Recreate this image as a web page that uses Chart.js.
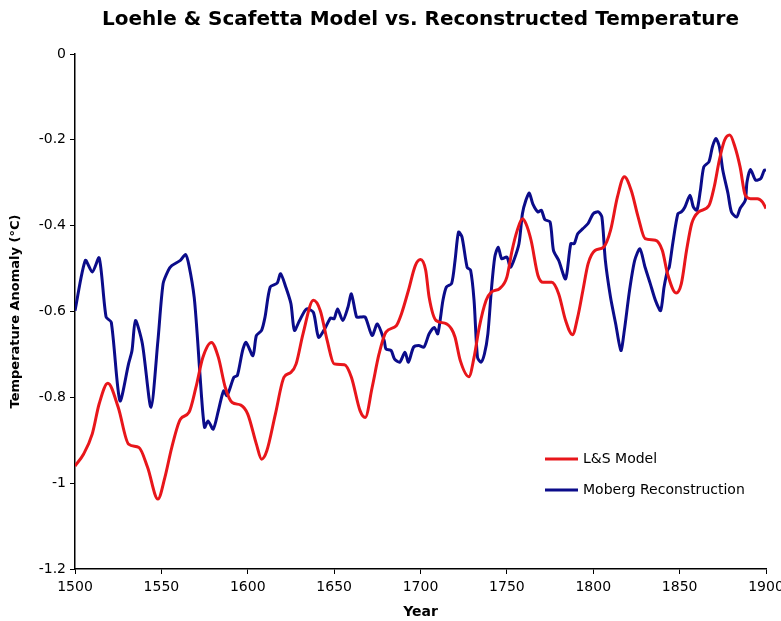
<!DOCTYPE html>
<html>
<head>
<meta charset="utf-8">
<script src="https://cdn.jsdelivr.net/npm/chart.js@4.4.1/dist/chart.umd.min.js"></script>
<style>
html,body{margin:0;padding:0;background:#fff;}
#wrap{width:781px;height:621px;position:relative;}
</style>
</head>
<body>
<div id="wrap"><canvas id="c" width="781" height="621"></canvas></div>
<script>
const chartTitle = "Loehle & Scafetta Model vs. Reconstructed Temperature";
const xTitle = "Year";
const yTitle = "Temperature Anomaly (°C)";
const seriesNames = ["L&S Model", "Moberg Reconstruction"];

const modelYears = [1500,1505,1510,1514,1519,1525,1531,1537,1542,1548,1552,1556,1561,1566,1570,1574,1579,1583,1587,1591,1596,1600,1605,1608,1611,1616,1621,1625,1628,1632,1638,1642,1646,1650,1656,1660,1665,1668,1672,1676,1680,1686,1689,1693,1697,1700,1703,1705,1709,1714,1718,1720,1723,1728,1731,1734,1738,1741,1746,1750,1753,1756,1759,1761,1764,1768,1771,1776,1780,1784,1788,1791,1794,1797,1801,1806,1810,1814,1818,1822,1826,1830,1836,1840,1843,1848,1851,1854,1857,1861,1867,1870,1873,1876,1879,1882,1885,1888,1891,1895,1898,1900];
const modelValues = [-0.960,-0.932,-0.885,-0.815,-0.767,-0.823,-0.909,-0.917,-0.963,-1.037,-0.987,-0.917,-0.851,-0.835,-0.777,-0.707,-0.672,-0.707,-0.777,-0.812,-0.818,-0.839,-0.909,-0.944,-0.925,-0.839,-0.753,-0.742,-0.722,-0.652,-0.574,-0.598,-0.668,-0.722,-0.724,-0.753,-0.831,-0.847,-0.777,-0.699,-0.648,-0.633,-0.605,-0.551,-0.493,-0.479,-0.504,-0.567,-0.621,-0.627,-0.641,-0.660,-0.714,-0.752,-0.707,-0.637,-0.574,-0.555,-0.546,-0.520,-0.458,-0.411,-0.384,-0.395,-0.434,-0.516,-0.532,-0.532,-0.559,-0.621,-0.654,-0.613,-0.551,-0.489,-0.458,-0.450,-0.411,-0.333,-0.286,-0.318,-0.380,-0.430,-0.434,-0.458,-0.512,-0.557,-0.535,-0.458,-0.395,-0.368,-0.353,-0.310,-0.247,-0.201,-0.189,-0.216,-0.263,-0.329,-0.337,-0.337,-0.345,-0.360];

const mobergYears = [1500,1506,1510,1514,1518,1521,1526,1531,1533,1535,1539,1544,1548,1551,1554,1556,1561,1564,1566,1569,1571,1573,1575,1577,1580,1583,1586,1588,1592,1594,1597,1599,1603,1605,1608,1610,1613,1617,1619,1622,1625,1627,1630,1634,1638,1641,1645,1648,1650,1652,1655,1658,1660,1663,1665,1668,1672,1675,1679,1680,1683,1685,1688,1691,1693,1696,1699,1702,1705,1708,1710,1713,1715,1718,1720,1722,1724,1727,1729,1731,1733,1735,1737,1739,1741,1743,1745,1747,1750,1752,1754,1757,1759,1761,1763,1765,1768,1770,1772,1775,1777,1780,1784,1787,1789,1791,1794,1797,1800,1803,1805,1807,1810,1813,1816,1818,1821,1824,1827,1830,1833,1836,1839,1841,1843,1844,1846,1849,1851,1853,1856,1858,1860,1862,1864,1867,1869,1871,1873,1875,1878,1880,1883,1885,1888,1889,1891,1894,1897,1899,1900];
const mobergValues = [-0.598,-0.481,-0.508,-0.475,-0.613,-0.625,-0.808,-0.722,-0.691,-0.621,-0.675,-0.823,-0.668,-0.535,-0.504,-0.493,-0.481,-0.467,-0.493,-0.567,-0.668,-0.785,-0.870,-0.855,-0.874,-0.831,-0.785,-0.796,-0.753,-0.749,-0.691,-0.672,-0.703,-0.656,-0.644,-0.613,-0.543,-0.534,-0.512,-0.543,-0.582,-0.644,-0.621,-0.594,-0.602,-0.660,-0.637,-0.615,-0.617,-0.594,-0.621,-0.590,-0.559,-0.613,-0.613,-0.613,-0.656,-0.629,-0.668,-0.687,-0.691,-0.711,-0.718,-0.695,-0.718,-0.683,-0.679,-0.683,-0.652,-0.637,-0.652,-0.574,-0.543,-0.535,-0.481,-0.415,-0.426,-0.497,-0.504,-0.574,-0.707,-0.718,-0.699,-0.652,-0.551,-0.473,-0.450,-0.477,-0.473,-0.497,-0.481,-0.442,-0.372,-0.341,-0.324,-0.349,-0.368,-0.364,-0.386,-0.391,-0.458,-0.481,-0.524,-0.442,-0.442,-0.419,-0.407,-0.395,-0.372,-0.368,-0.380,-0.481,-0.567,-0.629,-0.691,-0.644,-0.551,-0.481,-0.454,-0.497,-0.535,-0.574,-0.598,-0.543,-0.504,-0.497,-0.442,-0.372,-0.368,-0.357,-0.329,-0.357,-0.364,-0.318,-0.263,-0.251,-0.216,-0.197,-0.216,-0.271,-0.325,-0.368,-0.380,-0.360,-0.341,-0.298,-0.269,-0.294,-0.290,-0.271,-0.270];

const xTicks = [1500,1550,1600,1650,1700,1750,1800,1850,1900];
const yTicks = [0,-0.2,-0.4,-0.6,-0.8,-1,-1.2];

const FONT = "'DejaVu Sans', Verdana, sans-serif";

function pts(xs, ys){ return xs.map((x,i)=>({x:x, y:ys[i]})); }

const titlePlugin = {
  id: 'topTitle',
  afterDraw(chart){
    const ctx = chart.ctx, a = chart.chartArea;
    ctx.save();
    ctx.font = "bold 20px " + FONT;
    ctx.fillStyle = "#000";
    ctx.textAlign = "center";
    ctx.textBaseline = "middle";
    ctx.fillText(chartTitle, (a.left + a.right)/2, 20);
    ctx.restore();
  }
};

const legendPlugin = {
  id: 'innerLegend',
  afterDatasetsDraw(chart){
    const ctx = chart.ctx, a = chart.chartArea;
    ctx.save();
    ctx.font = "14px " + FONT;
    ctx.textBaseline = "middle";
    ctx.textAlign = "left";
    chart.data.datasets.forEach((ds, i) => {
      const y = a.top + 405 + i*31;
      const x0 = a.left + 470;
      ctx.strokeStyle = ds.borderColor;
      ctx.lineWidth = 3;
      ctx.beginPath();
      ctx.moveTo(x0, y);
      ctx.lineTo(x0 + 33, y);
      ctx.stroke();
      ctx.fillStyle = "#000";
      ctx.fillText(ds.label, x0 + 38, y);
    });
    ctx.restore();
  }
};

new Chart(document.getElementById('c'), {
  type: 'line',
  data: {
    datasets: [
      { label: seriesNames[0], data: pts(modelYears, modelValues), borderColor: '#e8161b', borderWidth: 3, pointRadius: 0, tension: 0.4, cubicInterpolationMode: 'monotone' },
      { label: seriesNames[1], data: pts(mobergYears, mobergValues), borderColor: '#0b0c8a', borderWidth: 3, pointRadius: 0, tension: 0.25 }
    ]
  },
  options: {
    responsive: false,
    animation: false,
    devicePixelRatio: 1,
    layout: { padding: { top: 54, right: 15, left: 8, bottom: 0 } },
    plugins: { legend: { display: false }, title: { display: false }, tooltip: { enabled: false } },
    scales: {
      x: {
        type: 'linear', min: 1500, max: 1900,
        afterBuildTicks(s){ s.ticks = xTicks.map(v => ({value: v})); },
        afterFit(s){ s.height = 52; s.paddingLeft = 0; s.paddingRight = 0; },
        ticks: { font: { family: FONT, size: 14 }, color: '#000', padding: 5, maxRotation: 0, autoSkip: false, callback: v => String(v) },
        grid: { drawOnChartArea: false, drawTicks: true, tickLength: 5, color: '#000', lineWidth: 1 },
        border: { display: true, color: '#000', width: 1.5 },
        title: { display: true, text: xTitle, font: { family: FONT, size: 14, weight: 'bold' }, color: '#000', padding: { top: 4, bottom: 0 } }
      },
      y: {
        type: 'linear', min: -1.2, max: 0,
        afterBuildTicks(s){ s.ticks = yTicks.map(v => ({value: v})); },
        afterFit(s){ s.width = 67; },
        ticks: { font: { family: FONT, size: 14 }, color: '#000', padding: 4, autoSkip: false, callback: v => String(Number(v.toFixed(1))) },
        grid: { drawOnChartArea: false, drawTicks: true, tickLength: 5, color: '#000', lineWidth: 1 },
        border: { display: true, color: '#000', width: 1.5 },
        title: { display: true, text: yTitle, font: { family: FONT, size: 13, weight: 'bold' }, color: '#000', padding: { top: 0, bottom: 2 } }
      }
    }
  },
  plugins: [titlePlugin, legendPlugin]
});
</script>
</body>
</html>
